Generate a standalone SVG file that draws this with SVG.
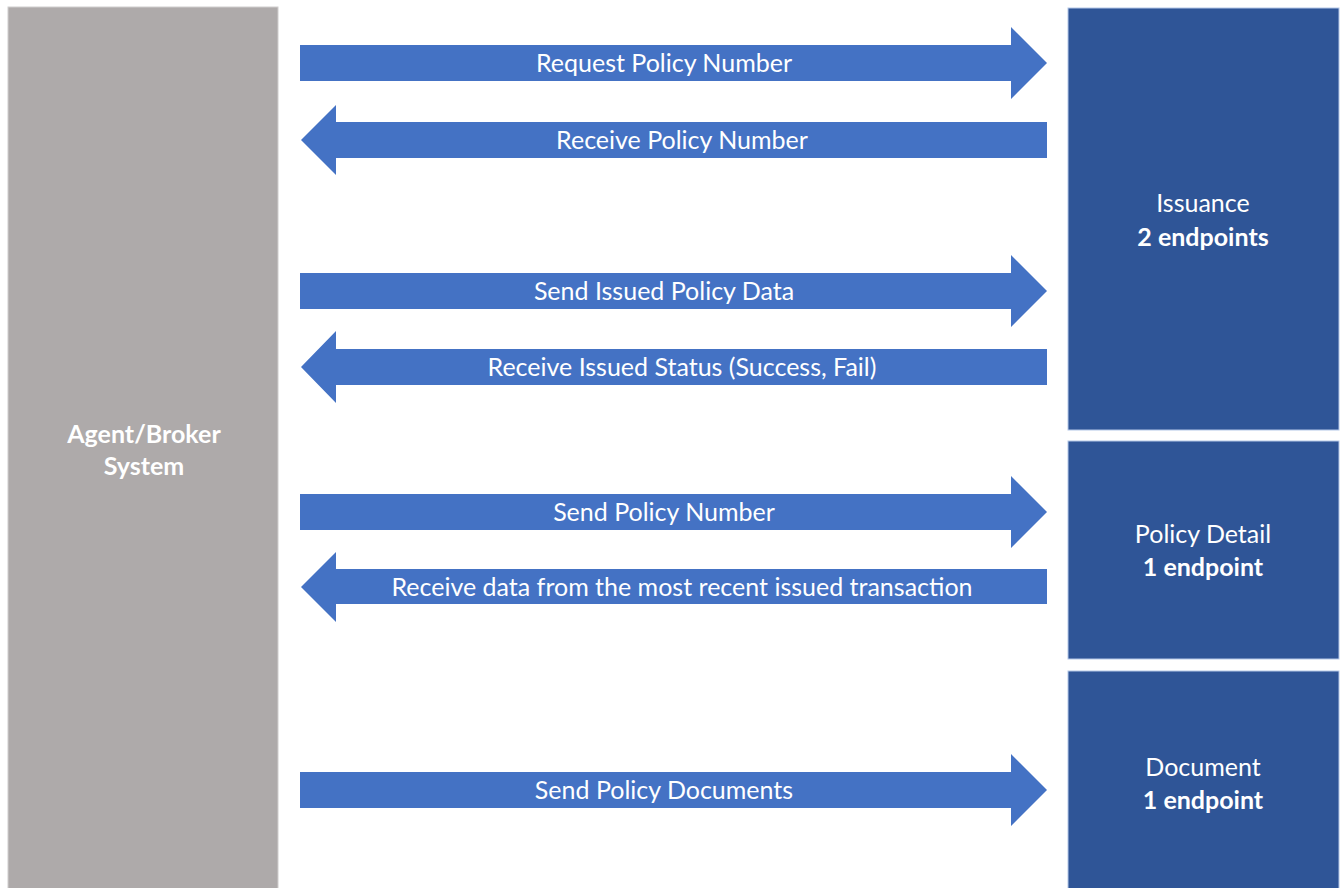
<svg xmlns="http://www.w3.org/2000/svg" width="1340" height="888" viewBox="0 0 1340 888">
<style>
.sys{fill:#AEAAAA;stroke:#D0CECE;stroke-width:1}
.api{fill:#2F5597;stroke:#B4C7E7;stroke-width:1}
.arr{fill:#4472C4}
text{font-family:Lato,"Liberation Sans",sans-serif;font-size:25px;fill:#FFFFFF;text-anchor:middle}
.b{font-weight:bold}
</style>
<rect width="1340" height="888" fill="#FFFFFF"/>
<g id="agent">
<rect class="sys" x="8" y="7" width="270" height="890"/>
<text class="b" x="144" y="443">Agent/Broker</text>
<text class="b" x="144" y="475">System</text>
</g>
<g id="issuance">
<rect class="api" x="1068" y="8" width="271" height="422"/>
<text x="1203" y="212">Issuance</text>
<text class="b" x="1203" y="246">2 endpoints</text>
</g>
<g id="policy-detail">
<rect class="api" x="1068" y="441" width="271" height="218"/>
<text x="1203" y="543">Policy Detail</text>
<text class="b" x="1203" y="576">1 endpoint</text>
</g>
<g id="document">
<rect class="api" x="1068" y="671" width="271" height="230"/>
<text x="1203" y="776">Document</text>
<text class="b" x="1203" y="809">1 endpoint</text>
</g>
<g id="connectors">
<path class="arr" d="M300 45H1011V27L1047 63L1011 99V81H300Z"/>
<text x="664" y="72">Request Policy Number</text>
<path class="arr" d="M1047 122H336V105L301 140L336 175V158H1047Z"/>
<text x="682" y="149">Receive Policy Number</text>
<path class="arr" d="M300 273H1011V255L1047 291L1011 327V309H300Z"/>
<text x="664" y="300">Send Issued Policy Data</text>
<path class="arr" d="M1047 349H336V331L301 367L336 403V385H1047Z"/>
<text x="682" y="376">Receive Issued Status (Success, Fail)</text>
<path class="arr" d="M300 494H1011V476L1047 512L1011 548V530H300Z"/>
<text x="664" y="521">Send Policy Number</text>
<path class="arr" d="M1047 569H336V552L301 587L336 622V604H1047Z"/>
<text x="682" y="596">Receive data from the most recent issued transaction</text>
<path class="arr" d="M300 772H1011V754L1047 790L1011 826V808H300Z"/>
<text x="664" y="799">Send Policy Documents</text>
</g>
</svg>
